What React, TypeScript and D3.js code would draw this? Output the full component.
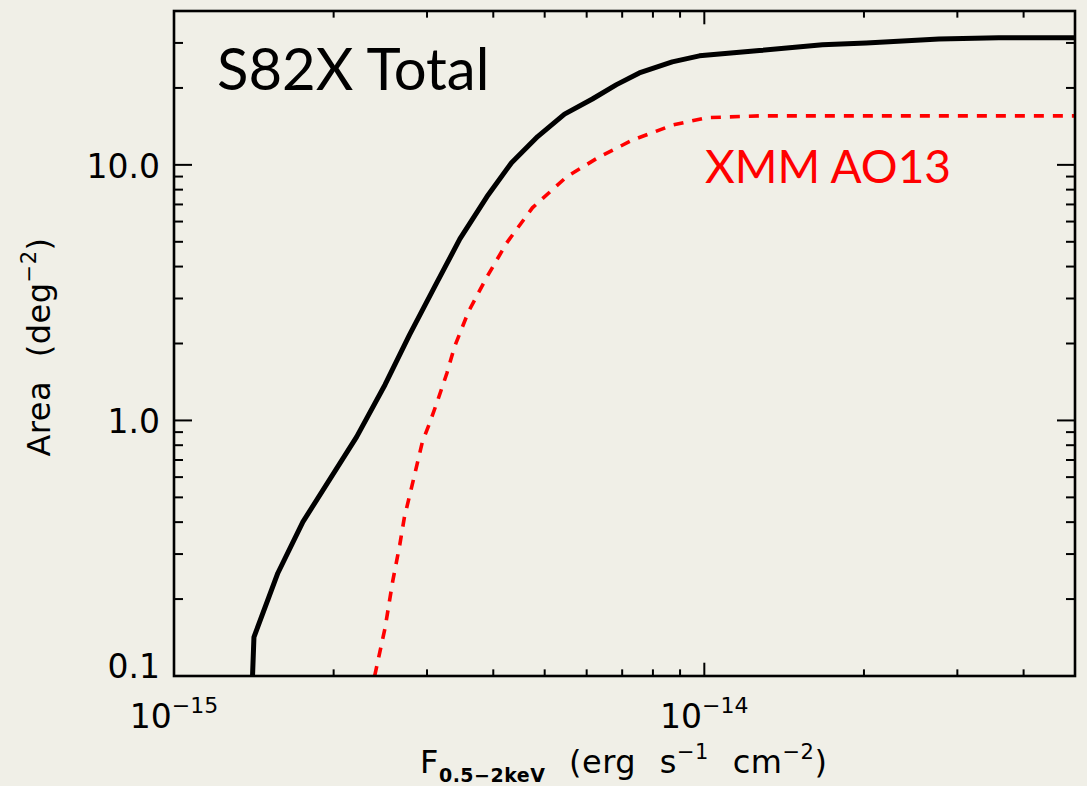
import * as d3 from 'd3'
import { useRef, useEffect } from 'react'

const W = 1087, H = 786
const M = { top: 11, right: 12, bottom: 110, left: 174 }

// S82X Total (solid black)
const TOTAL_FLUX = [1.405e-15, 1.415e-15, 1.57e-15, 1.75e-15, 2.21e-15, 2.5e-15, 2.78e-15, 3.1e-15, 3.46e-15, 3.89e-15, 4.33e-15, 4.85e-15, 5.45e-15, 6.15e-15, 6.83e-15, 7.54e-15, 8.7e-15, 9.79e-15, 1.27e-14, 1.67e-14, 2.02e-14, 2.77e-14, 3.59e-14, 5.0e-14]
const TOTAL_AREA = [0.095, 0.142, 0.253, 0.401, 0.862, 1.38, 2.16, 3.33, 5.13, 7.5, 10.2, 12.9, 15.8, 18.1, 20.6, 22.9, 25.3, 26.7, 28.0, 29.5, 30.0, 31.1, 31.4, 31.4]

// XMM AO13 (dashed red)
const AO13_FLUX = [2.39e-15, 2.5e-15, 2.585e-15, 2.665e-15, 2.72e-15, 2.83e-15, 2.94e-15, 3.035e-15, 3.13e-15, 3.27e-15, 3.38e-15, 3.59e-15, 3.89e-15, 4.24e-15, 4.74e-15, 5.5e-15, 6.34e-15, 7.32e-15, 8.7e-15, 1.01e-14, 1.27e-14, 5.0e-14]
const AO13_AREA = [0.1, 0.154, 0.235, 0.326, 0.419, 0.59, 0.824, 0.978, 1.17, 1.53, 1.94, 2.66, 3.64, 4.95, 6.79, 8.98, 10.75, 12.5, 14.3, 15.3, 15.55, 15.55]

const X_MAJOR = [1e-15, 1e-14]
const X_EXP = ['−15', '−14']
const Y_MAJOR = [0.1, 1, 10]
const Y_LABELS = ['0.1', '1.0', '10.0']

const BG = '#f0efe7'
const AXIS_FONT = 'DejaVu Sans, sans-serif'
const TEXT_FONT = 'Lato, "Open Sans", sans-serif'

export default function App() {
  const svgRef = useRef<SVGSVGElement>(null)

  useEffect(() => {
    const svg = d3.select(svgRef.current)
    svg.selectAll('*').remove()

    const x = d3.scaleLog().domain([1e-15, 5e-14]).range([M.left, W - M.right])
    const y = d3.scaleLog().domain([0.1, 40]).range([H - M.bottom, M.top])
    const [x0, x1] = x.range()
    const [y0, y1] = y.range()
    const xTickLen = (y0 - y1) * 0.02
    const yTickLen = (x1 - x0) * 0.02

    svg.append('rect').attr('width', W).attr('height', H).attr('fill', BG)

    svg.append('defs').append('clipPath').attr('id', 'plot-clip')
      .append('rect').attr('x', x0).attr('y', y1).attr('width', x1 - x0).attr('height', y0 - y1)

    // curves
    const line = d3.line<[number, number]>().x((d) => x(d[0])).y((d) => y(d[1]))
    const g = svg.append('g').attr('clip-path', 'url(#plot-clip)')
    g.append('path').datum(AO13_FLUX.map((f, i) => [f, AO13_AREA[i]] as [number, number]))
      .attr('fill', 'none').attr('stroke', '#ff0000').attr('stroke-width', 3.6)
      .attr('stroke-dasharray', '10,9').attr('d', line)
    g.append('path').datum(TOTAL_FLUX.map((f, i) => [f, TOTAL_AREA[i]] as [number, number]))
      .attr('fill', 'none').attr('stroke', '#000').attr('stroke-width', 5)
      .attr('stroke-linejoin', 'round').attr('d', line)

    // ticks on all four sides
    const isMajor = (v: number) => Math.abs(Math.log10(v) - Math.round(Math.log10(v))) < 1e-6
    const ticks = svg.append('g').attr('stroke', '#000').attr('stroke-width', 2)
    x.ticks().filter((v) => x(v) > x0 + 1 && x(v) < x1 - 1).forEach((v) => {
      const len = isMajor(v) ? xTickLen : xTickLen / 2
      ticks.append('line').attr('x1', x(v)).attr('x2', x(v)).attr('y1', y0).attr('y2', y0 - len)
      ticks.append('line').attr('x1', x(v)).attr('x2', x(v)).attr('y1', y1).attr('y2', y1 + len)
    })
    y.ticks().filter((v) => y(v) > y1 + 1 || isMajor(v)).forEach((v) => {
      const len = isMajor(v) ? yTickLen : yTickLen / 2
      ticks.append('line').attr('x1', x0).attr('x2', x0 + len).attr('y1', y(v)).attr('y2', y(v))
      ticks.append('line').attr('x1', x1).attr('x2', x1 - len).attr('y1', y(v)).attr('y2', y(v))
    })

    // frame
    svg.append('rect').attr('x', x0).attr('y', y1).attr('width', x1 - x0).attr('height', y0 - y1)
      .attr('fill', 'none').attr('stroke', '#000').attr('stroke-width', 2.6)

    // y tick labels (the bottom one is lifted so it stays above the x labels)
    Y_MAJOR.forEach((v, i) => {
      svg.append('text').attr('x', x0 - 14).attr('y', Math.min(y(v) + 13, y0 + 2))
        .attr('text-anchor', 'end').attr('font-family', AXIS_FONT).attr('font-size', 33)
        .attr('fill', '#000').text(Y_LABELS[i])
    })

    // x tick labels
    X_MAJOR.forEach((v, i) => {
      const t = svg.append('text').attr('x', x(v)).attr('y', 728)
        .attr('text-anchor', 'middle').attr('font-family', AXIS_FONT).attr('font-size', 33).attr('fill', '#000')
      t.append('tspan').text('10')
      t.append('tspan').attr('font-size', 22).attr('dy', -15).text(X_EXP[i])
    })

    // x axis title
    const xt = svg.append('text').attr('x', 420).attr('y', 773)
      .attr('font-family', AXIS_FONT).attr('font-size', 32).attr('fill', '#000')
      .attr('word-spacing', 13).attr('letter-spacing', 0.5)
    xt.append('tspan').text('F')
    xt.append('tspan').attr('font-size', 19).attr('font-weight', 'bold').attr('dy', 9).text('0.5−2keV')
    xt.append('tspan').attr('dy', -9).text(' (erg s')
    xt.append('tspan').attr('font-size', 21).attr('dy', -14).text('−1')
    xt.append('tspan').attr('dy', 14).text(' cm')
    xt.append('tspan').attr('font-size', 21).attr('dy', -14).text('−2')
    xt.append('tspan').attr('dy', 14).text(')')

    // y axis title
    const yt = svg.append('text').attr('transform', 'translate(50,347) rotate(-90)')
      .attr('text-anchor', 'middle').attr('font-family', AXIS_FONT).attr('font-size', 32).attr('fill', '#000')
      .attr('word-spacing', 13).attr('letter-spacing', 0.5)
    yt.append('tspan').text('Area (deg')
    yt.append('tspan').attr('font-size', 21).attr('dy', -14).text('−2')
    yt.append('tspan').attr('dy', 14).text(')')

    // annotations
    svg.append('text').attr('x', 217).attr('y', 90).attr('font-family', TEXT_FONT)
      .attr('font-size', 58).attr('fill', '#000').text('S82X Total')
    svg.append('text').attr('x', 705).attr('y', 183).attr('font-family', TEXT_FONT)
      .attr('font-size', 46).attr('fill', '#ff0000').text('XMM AO13')
  }, [])

  return (
    <div style={{ position: 'absolute', left: 0, top: 0 }}>
      <svg ref={svgRef} width={W} height={H} style={{ display: 'block' }} />
    </div>
  )
}
